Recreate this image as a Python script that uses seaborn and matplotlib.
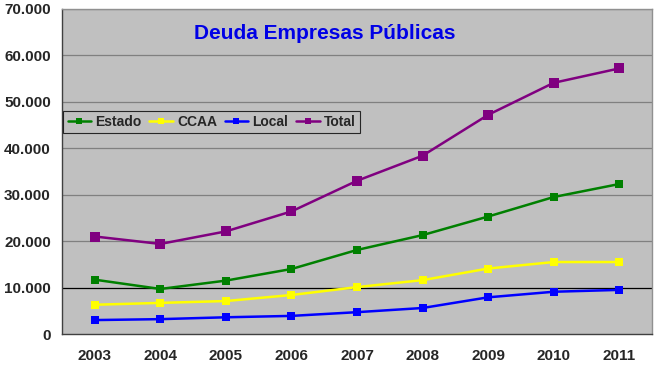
import numpy as np
import pandas as pd
import matplotlib
matplotlib.use("Agg")
import matplotlib.pyplot as plt
import seaborn as sns
from matplotlib.ticker import FuncFormatter, MultipleLocator

years = [2003, 2004, 2005, 2006, 2007, 2008, 2009, 2010, 2011]
estado = [11700, 9700, 11500, 14000, 18100, 21300, 25300, 29500, 32300]
ccaa = [6300, 6700, 7100, 8400, 10100, 11600, 14100, 15500, 15500]
local = [3000, 3200, 3600, 3900, 4700, 5600, 7900, 9100, 9500]
total = [21000, 19400, 22100, 26400, 33000, 38400, 47200, 54100, 57200]

series = ["Estado", "CCAA", "Local", "Total"]
colors = ["#008000", "#FFFF00", "#0000FF", "#800080"]

df = pd.DataFrame({"year": years, "Estado": estado, "CCAA": ccaa,
                   "Local": local, "Total": total})
df = df.melt(id_vars="year", var_name="serie", value_name="valor")

sns.set_style("white")
plt.rcParams['font.family'] = ['Liberation Sans', 'DejaVu Sans']

fig = plt.figure(figsize=(6.55, 3.75), dpi=100, facecolor='white')
ax = fig.add_axes([62/655, 1-334/375, 590/655, 325/375])
ax.set_facecolor('#C0C0C0')

sns.lineplot(data=df, x="year", y="valor", hue="serie", hue_order=series,
             palette=colors, marker="s", markersize=5.4, markeredgewidth=0,
             linewidth=1.8, ax=ax, legend=True)
# Total tiene marcadores mas grandes
for ln in ax.lines:
    if ln.get_color() == "#800080" and len(ln.get_xdata()) > 2:
        ln.set_markersize(6.8)

ax.set_xlim(2002.5, 2011.5)
ax.set_ylim(0, 70000)
ax.yaxis.set_major_locator(MultipleLocator(10000))
ax.yaxis.set_major_formatter(FuncFormatter(lambda v, p: f"{int(v):,}".replace(",", ".")))
ax.set_xticks(years)
ax.set_xticks(np.arange(2002.5, 2012, 1), minor=True)
ax.tick_params(axis='x', which='major', length=0, pad=11, labelsize=11)
ax.tick_params(axis='x', which='minor', length=4, color='#404040')
ax.tick_params(axis='y', length=4, color='#404040', labelsize=11, pad=4)
for lab in ax.get_xticklabels() + ax.get_yticklabels():
    lab.set_fontweight('bold')

for y in range(10000, 70001, 10000):
    ax.axhline(y, color='black' if y == 10000 else '#808080', lw=0.9, zorder=0.5)

for side in ['top', 'right']:
    ax.spines[side].set_color('#909090')
for side in ['left', 'bottom']:
    ax.spines[side].set_color('#404040')
for s in ax.spines.values():
    s.set_linewidth(1)

ax.set_xlabel("")
ax.set_ylabel("")

ax.text(0.446, 0.926, "Deuda Empresas Públicas", transform=ax.transAxes,
        ha='center', va='center', fontsize=15, fontweight='bold', color='#0000E6')

leg = ax.legend(ncol=4, loc='upper left', bbox_to_anchor=(0.0, 0.69),
                borderaxespad=0.1, frameon=True, fancybox=False,
                handlelength=1.7, handletextpad=0.3, columnspacing=0.55,
                borderpad=0.3, prop={'weight': 'bold', 'size': 10})
leg.get_frame().set_edgecolor('black')
leg.get_frame().set_facecolor('#C0C0C0')
leg.get_frame().set_linewidth(0.8)
for h in leg.get_lines():
    h.set_markersize(4.5)

fig.savefig("out.png", dpi=100, facecolor='white')
